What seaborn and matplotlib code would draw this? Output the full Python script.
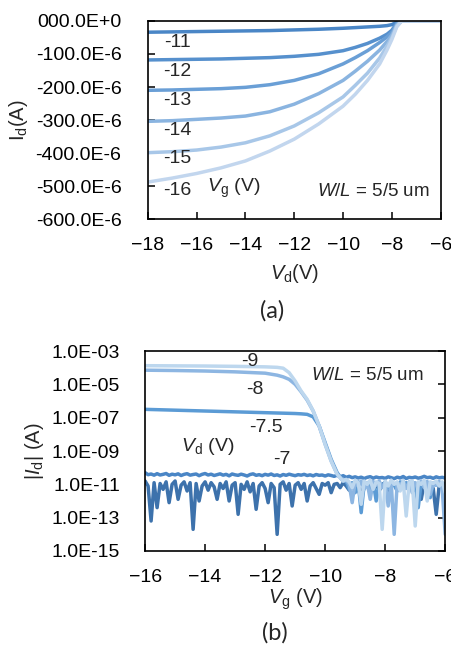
import numpy as np
import pandas as pd
import seaborn as sns
import matplotlib.pyplot as plt

# ---- (a) output characteristics, Id in uA ----
vd = [-18, -17, -16, -15, -14, -13, -12, -11, -10, -9.5, -9, -8.5, -8.2, -8.0, -7.8, -7.6, -7, -6]
vg_steps = [-11, -12, -13, -14, -15, -16]
id_m11 = [-34, -33, -32, -31, -30, -29, -27, -25, -22, -20, -18, -16, -14, -11, -3, 0, 0, 0]
id_m12 = [-118, -117, -116, -115, -113, -111, -107, -101, -90, -80, -68, -52, -40, -28, -6, 0, 0, 0]
id_m13 = [-210, -209, -207, -205, -201, -193, -180, -160, -130, -111, -90, -65, -48, -34, -9, 0, 0, 0]
id_m14 = [-304, -302, -298, -294, -288, -275, -252, -220, -180, -152, -122, -88, -62, -42, -12, 0, 0, 0]
id_m15 = [-399, -396, -391, -382, -369, -348, -318, -278, -230, -195, -158, -112, -76, -50, -15, 0, 0, 0]
id_m16 = [-488, -476, -462, -445, -424, -394, -358, -312, -258, -222, -180, -130, -88, -56, -18, 0, 0, 0]
out_colors = ['#4A86C6', '#5690CD', '#6A9FD6', '#8AB4E0', '#A8C7E8', '#C2D6EE']
yticks_a = [0, -100e-6, -200e-6, -300e-6, -400e-6, -500e-6, -600e-6]
ylabels_a = ['000.0E+0', '-100.0E-6', '-200.0E-6', '-300.0E-6', '-400.0E-6', '-500.0E-6', '-600.0E-6']

# ---- (b) transfer characteristics, log10(|Id|) ----
vg_full = np.round(np.arange(-16, -5.95, 0.1), 1)
vg_on = [-16, -15, -14, -13, -12, -11.6, -11.4, -11.2, -11.0, -10.8, -10.6, -10.4, -10.2, -10.0, -9.8, -9.6, -9.4]
vg_off = np.round(np.arange(-9.3, -5.95, 0.1), 1)

log_m7_fwd = [-10.30, -10.42, -10.38, -10.45, -10.36, -10.44, -10.40, -10.35, -10.46, -10.39,
              -10.43, -10.37, -10.47, -10.40, -10.36, -10.45, -10.41, -10.38, -10.48, -10.40,
              -10.35, -10.44, -10.39, -10.47, -10.42, -10.37, -10.45, -10.40, -10.49, -10.38,
              -10.43, -10.46, -10.39, -10.44, -10.50, -10.41, -10.37, -10.46, -10.42, -10.48,
              -10.40, -10.45, -10.38, -10.47, -10.43, -10.50, -10.41, -10.46, -10.39, -10.44,
              -10.48, -10.42, -10.45, -10.40, -10.47, -10.43, -10.49, -10.41, -10.46, -10.44,
              -10.50, -10.43, -10.47, -10.52, -10.45, -10.55, -10.48, -10.58, -10.52, -10.60,
              -10.55, -10.62, -10.57, -10.65, -10.58, -10.54, -10.63, -10.56, -10.61, -10.59,
              -10.64, -10.55, -10.60, -10.66, -10.57, -10.62, -10.53, -10.65, -10.58, -10.61,
              -10.56, -10.63, -10.59, -10.52, -10.60, -10.57, -10.64, -10.55, -10.61, -10.58, -10.62]
log_m7_rev = [-10.80, -11.10, -13.20, -10.90, -12.40, -10.95, -11.30, -10.85, -12.10, -11.00,
              -10.80, -11.90, -11.05, -10.85, -11.40, -10.90, -13.70, -10.95, -12.00, -11.10,
              -10.85, -11.35, -10.90, -11.15, -11.90, -10.95, -11.25, -10.85, -12.00, -11.05,
              -10.90, -12.80, -11.00, -11.30, -10.85, -11.45, -10.95, -12.50, -11.10, -10.90,
              -11.25, -12.10, -10.95, -11.20, -14.00, -11.00, -10.85, -11.35, -10.95, -12.30,
              -11.05, -10.90, -11.30, -10.95, -12.00, -11.10, -10.90, -11.25, -11.60, -10.95,
              -11.05, -10.90, -11.50, -11.00, -10.95, -11.20, -10.90, -11.10, -11.35, -10.95,
              -11.05, -11.30, -11.80, -11.00, -10.90, -11.25, -11.05, -10.95, -11.40, -11.00,
              -10.90, -11.60, -11.05, -10.95, -11.30, -11.00, -10.90, -11.20, -11.05, -10.95,
              -11.35, -11.00, -11.90, -10.95, -11.10, -11.00, -11.25, -12.80, -11.05, -10.95, -11.20]

on_m75 = [-6.50, -6.55, -6.60, -6.65, -6.70, -6.72, -6.73, -6.74, -6.75, -6.77, -6.80, -6.95, -7.50, -8.50, -9.50, -10.30, -10.80]
on_m8 = [-4.15, -4.17, -4.20, -4.25, -4.33, -4.45, -4.55, -4.70, -5.00, -5.45, -5.95, -6.60, -7.50, -8.60, -9.60, -10.40, -10.80]
on_m9 = [-3.88, -3.89, -3.90, -3.92, -3.95, -3.98, -4.03, -4.30, -4.80, -5.40, -5.90, -6.60, -7.50, -8.60, -9.60, -10.40, -10.80]

off_m75 = [-10.80, -11.30, -10.90, -11.50, -10.85, -12.70, -11.00, -10.90, -11.20, -10.85, -12.00, -10.95,
           -11.10, -10.85, -11.25, -10.90, -11.05, -11.40, -10.85, -11.10, -10.90, -11.30, -10.85, -11.00,
           -12.40, -10.90, -11.15, -10.85, -11.80, -10.95, -11.05, -10.85, -11.20, -10.95]
off_m8 = [-10.75, -11.00, -12.10, -10.85, -11.10, -10.80, -11.30, -10.90, -11.90, -10.85, -11.05, -10.80,
          -11.20, -10.90, -12.30, -10.85, -14.00, -10.90, -11.05, -10.80, -11.25, -10.85, -11.50, -10.90,
          -11.10, -10.80, -11.20, -10.85, -11.60, -10.90, -11.05, -10.85, -11.30, -14.00]
off_m9 = [-10.70, -10.85, -11.20, -10.75, -10.90, -12.20, -10.80, -11.00, -10.75, -11.30, -10.85, -10.95,
          -13.70, -10.80, -11.10, -10.75, -11.00, -10.85, -11.40, -10.80, -12.90, -10.90, -10.80, -13.50,
          -10.85, -11.00, -10.75, -12.00, -10.85, -10.95, -10.80, -11.10, -10.85, -11.50]

tr_colors = {'-7 fwd': '#4A86C6', '-7 rev': '#3D72AC', '-7.5': '#5B9BD5', '-8': '#8DB6E2', '-9': '#BDD7EE'}
yticks_b = [1e-3, 1e-5, 1e-7, 1e-9, 1e-11, 1e-13, 1e-15]
ylabels_b = ['1.0E-03', '1.0E-05', '1.0E-07', '1.0E-09', '1.0E-11', '1.0E-13', '1.0E-15']

# ---- build long tables ----
curves_a = [id_m11, id_m12, id_m13, id_m14, id_m15, id_m16]
rows = []
for vg, ids in zip(vg_steps, curves_a):
    for v, i in zip(vd, ids):
        rows.append((v, i * 1e-6, str(vg)))
df_a = pd.DataFrame(rows, columns=['Vd', 'Id', 'Vg'])

rows = []
for name, xs, ys in [('-7 rev', vg_full, log_m7_rev), ('-7 fwd', vg_full, log_m7_fwd),
                     ('-7.5', list(vg_on) + list(vg_off), on_m75 + off_m75),
                     ('-8', list(vg_on) + list(vg_off), on_m8 + off_m8),
                     ('-9', list(vg_on) + list(vg_off), on_m9 + off_m9)]:
    for x, y in zip(xs, ys):
        rows.append((x, 10 ** y, name))
df_b = pd.DataFrame(rows, columns=['Vg', 'Id', 'Vd'])

sns.set_style('ticks')
plt.rcParams['font.family'] = ['Liberation Sans', 'DejaVu Sans']
plt.rcParams['mathtext.fontset'] = 'custom'
plt.rcParams['mathtext.rm'] = 'Liberation Sans'
plt.rcParams['mathtext.it'] = 'Liberation Sans:italic'

fig = plt.figure(figsize=(4.52, 6.48), dpi=100)
ax1 = fig.add_axes([0.327, 0.662, 0.648, 0.3056])
ax2 = fig.add_axes([0.321, 0.1497, 0.664, 0.3086])

# (a)
sns.lineplot(data=df_a, x='Vd', y='Id', hue='Vg', palette=out_colors, hue_order=[str(v) for v in vg_steps],
             estimator=None, sort=False, lw=2.5, legend=False, ax=ax1)
ax1.set_xlim(-18, -6)
ax1.set_ylim(-600e-6, 0)
ax1.set_xticks(range(-18, -5, 2))
ax1.set_yticks(yticks_a)
ax1.set_yticklabels(ylabels_a)
ax1.tick_params(direction='in', length=5, width=1.1, labelsize=14, colors='black')
ax1.tick_params(axis='x', pad=13)
ax1.tick_params(axis='y', pad=19)
ax1.set_xlabel('$V_\\mathrm{d}$(V)', fontsize=14.5, labelpad=6)
ax1.set_ylabel('I$_\\mathrm{d}$(A)', fontsize=14.5, labelpad=4)
for s in ax1.spines.values():
    s.set_color('black')
    s.set_linewidth(1.2)
lab_y = [-64e-6, -154e-6, -241e-6, -332e-6, -418e-6, -515e-6]
for vg, yy in zip(vg_steps, lab_y):
    ax1.text(-16.8, yy, str(vg), fontsize=14, ha='center', va='center')
ax1.text(-15.58, -507e-6, '$V_\\mathrm{g}$ (V)', fontsize=14, ha='left', va='center')
ax1.text(-6.44, -518e-6, '$W$/$L$ = 5/5 um', fontsize=13.5, ha='right', va='center')

# (b)
sns.lineplot(data=df_b, x='Vg', y='Id', hue='Vd', palette=tr_colors,
             hue_order=['-7 rev', '-7 fwd', '-7.5', '-8', '-9'],
             estimator=None, sort=False, lw=2.5, legend=False, ax=ax2)
ax2.set_yscale('log')
ax2.set_xlim(-16, -6)
ax2.set_ylim(1e-15, 1e-3)
ax2.set_xticks(range(-16, -5, 2))
ax2.set_yticks(yticks_b)
ax2.set_yticklabels(ylabels_b)
ax2.minorticks_off()
ax2.tick_params(direction='in', length=5, width=1.1, labelsize=14, colors='black')
ax2.tick_params(axis='x', pad=13)
ax2.tick_params(axis='y', left=False, right=True, labelleft=True, labelright=False, pad=18)
ax2.set_xlabel('$V_\\mathrm{g}$ (V)', fontsize=14.5, labelpad=0)
ax2.set_ylabel('|$I_\\mathrm{d}$| (A)', fontsize=14.5, labelpad=4)
for s in ax2.spines.values():
    s.set_color('black')
    s.set_linewidth(1.2)
ax2.text(-12.5, 10 ** -3.64, '-9', fontsize=14, ha='center', va='center')
ax2.text(-12.33, 10 ** -5.30, '-8', fontsize=14, ha='center', va='center')
ax2.text(-11.97, 10 ** -7.58, '-7.5', fontsize=14, ha='center', va='center')
ax2.text(-11.44, 10 ** -9.5, '-7', fontsize=14, ha='center', va='center')
ax2.text(-13.9, 10 ** -8.74, '$V_\\mathrm{d}$ (V)', fontsize=14, ha='center', va='center')
ax2.text(-6.73, 10 ** -4.44, '$W$/$L$ = 5/5 um', fontsize=13.5, ha='right', va='center')

fig.text(272 / 452, 1 - 311 / 648, '(a)', fontsize=17, ha='center', va='center', family=['Lato', 'DejaVu Sans'])
fig.text(275 / 452, 1 - 633 / 648, '(b)', fontsize=17, ha='center', va='center', family=['Lato', 'DejaVu Sans'])

fig.savefig('out.png', dpi=100)
